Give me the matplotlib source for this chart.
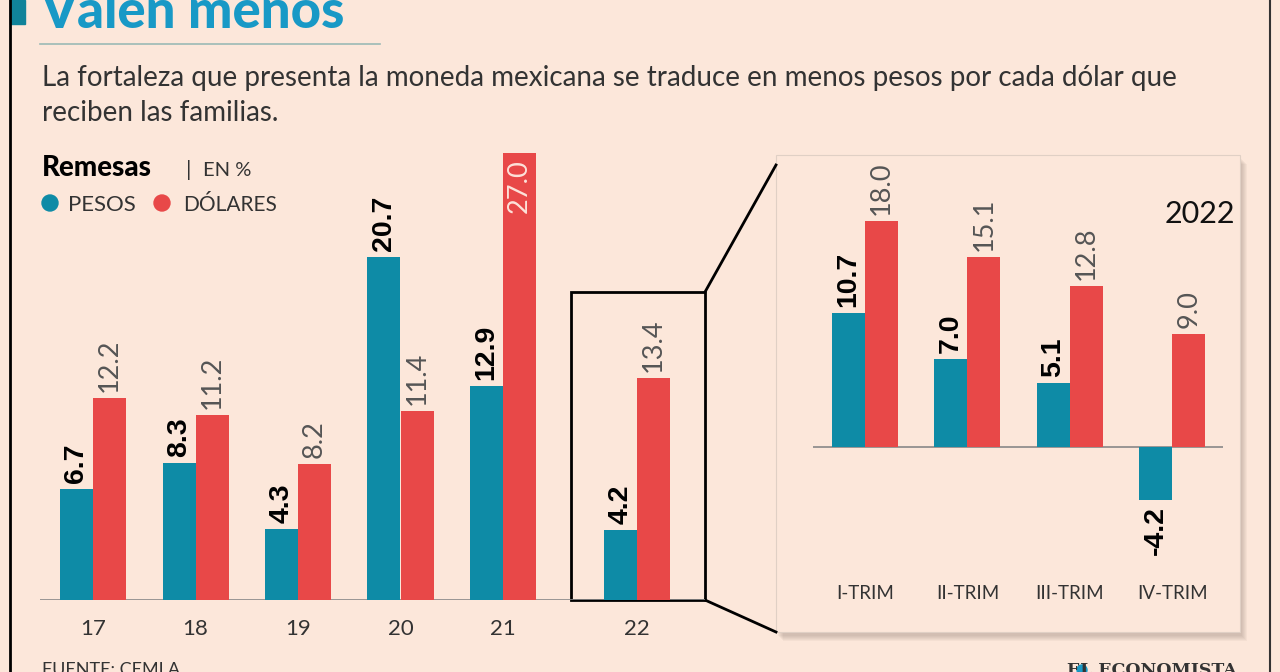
import numpy as np
import matplotlib.pyplot as plt
from matplotlib.patches import Rectangle, Circle

# data
years = ['17', '18', '19', '20', '21', '22']
pesos = [6.7, 8.3, 4.3, 20.7, 12.9, 4.2]
dolares = [12.2, 11.2, 8.2, 11.4, 27.0, 13.4]

trims = ['I-TRIM', 'II-TRIM', 'III-TRIM', 'IV-TRIM']
pesos_22 = [10.7, 7.0, 5.1, -4.2]
dolares_22 = [18.0, 15.1, 12.8, 9.0]

bg = '#fce7da'
teal = '#0e8ba6'
red = '#e84848'
txt = '#333333'
W, H = 1280, 672

FONT = 'Lato'


def px(x0, y0, x1, y1):
    return [x0 / W, 1 - y1 / H, (x1 - x0) / W, (y1 - y0) / H]


fig = plt.figure(figsize=(12.8, 6.72), dpi=100)
fig.patch.set_facecolor(bg)

# decoration layer in pixel coords
deco = fig.add_axes([0, 0, 1, 1], zorder=0)
deco.set_xlim(0, W)
deco.set_ylim(H, 0)
deco.axis('off')
deco.patch.set_alpha(0)

# outer frame
deco.plot([10, 10], [0, H], color='black', lw=2)
deco.plot([1270, 1270], [0, H], color='#333333', lw=1.5)
deco.add_patch(Rectangle((10, 0), 15, 24, color='#10839a'))

# title block
deco.text(40, 28, 'Valen menos', fontsize=38, fontweight='black', color='#1899c6',
          family=FONT, va='baseline')
deco.plot([40, 380], [44, 44], color='#9bbab5', lw=1.2)
deco.text(42, 86, 'La fortaleza que presenta la moneda mexicana se traduce en menos pesos por cada dólar que',
          fontsize=20, color=txt, family=FONT, va='baseline')
deco.text(42, 121, 'reciben las familias.',
          fontsize=20, color=txt, family=FONT, va='baseline')

# legend
deco.text(42, 176, 'Remesas', fontsize=20, fontweight='black', color='black', family=FONT, va='baseline')
deco.text(186, 176, '|', fontsize=16, color=txt, family=FONT, va='baseline')
deco.text(203, 176, 'EN %', fontsize=14.5, color=txt, family=FONT, va='baseline')
deco.add_patch(Circle((50, 203), 8, color=teal))
deco.text(68, 211, 'PESOS', fontsize=16, color=txt, family=FONT, va='baseline')
deco.add_patch(Circle((162, 203), 8, color=red))
deco.text(183, 211, 'DÓLARES', fontsize=15, color=txt, family=FONT, va='baseline')

# inset panel with shadow
for k in range(6):
    deco.add_patch(Rectangle((776 + 2 + k, 155 + 4 + k), 464, 477, color='#7a6a60', alpha=0.06, lw=0))
deco.add_patch(Rectangle((776, 155), 464, 477, facecolor=bg, edgecolor='#e0d0c5', lw=0.8))

# zoom box and connectors
deco.add_patch(Rectangle((571, 292), 134, 308, fill=False, edgecolor='black', lw=2, zorder=5))
deco.plot([705, 776], [292, 165], color='black', lw=2)
deco.plot([705, 776], [600, 632], color='black', lw=2)

# footer
deco.text(42, 662, 'FUENTE: CEMLA', fontsize=13, color=txt, family=FONT, va='top')
deco.add_patch(Circle((1082, 670), 5, color='#1899c6'))
deco.text(1237, 662, 'EL ECONOMISTA', fontsize=12.5, fontweight='bold', color=txt,
          family='DejaVu Serif', va='top', ha='right')


def bars(ax, pos, a, b, w, top):
    ax.bar(pos - w / 2, a, w, color=teal, zorder=2)
    ax.bar(pos + w / 2, b, w, color=red, zorder=2)
    for x, v in zip(pos, a):
        off = 6 if v >= 0 else -6
        ax.annotate(f'{v:.1f}', (x - w / 2, v), xytext=(0, off), textcoords='offset pixels',
                    rotation=90, ha='center', va='bottom' if v >= 0 else 'top',
                    fontsize=20.5, fontweight='bold', color='black', family='Liberation Sans')
    for x, v in zip(pos, b):
        if v > top * 0.9:
            ax.annotate(f'{v:.1f}', (x + w / 2, v), xytext=(0, -6), textcoords='offset pixels',
                        rotation=90, ha='center', va='top',
                        fontsize=19.5, color='#fde2da', family=FONT)
        else:
            ax.annotate(f'{v:.1f}', (x + w / 2, v), xytext=(0, 6), textcoords='offset pixels',
                        rotation=90, ha='center', va='bottom',
                        fontsize=19.5, color='#555555', family=FONT)


# main chart
ax = fig.add_axes(px(40, 140, 705, 600), zorder=1)
ax.patch.set_alpha(0)
pos = np.array([0, 1, 2, 3, 4, 5.31])
w = 33 / 102.5
ymax = 460 / 16.56
ax.set_xlim((40 - 93) / 102.5, (705 - 93) / 102.5)
ax.set_ylim(0, ymax)
bars(ax, pos, pesos, dolares, w, ymax)
ax.axhline(0, color='#888888', lw=1.2, zorder=1)
ax.set_xticks(pos)
ax.set_xticklabels(years, fontsize=16, color='#333333', family=FONT)
ax.tick_params(length=0, pad=14)
ax.set_yticks([])
for s in ax.spines.values():
    s.set_visible(False)

# inset chart 2022
ax2 = fig.add_axes(px(800, 200, 1235, 575), zorder=2)
ax2.patch.set_alpha(0)
pos2 = np.arange(len(trims))
sc = 12.56
ax2.set_xlim((800 - 865) / 102.4, (1235 - 865) / 102.4)
ax2.set_ylim(-(575 - 447) / sc, (447 - 200) / sc)
bars(ax2, pos2, pesos_22, dolares_22, 33 / 102.4, 99)
ax2.hlines(0, (813 - 865) / 102.4, (1223 - 865) / 102.4, color='#888888', lw=1.2, zorder=1)
ax2.set_xticks(pos2)
ax2.set_xticklabels(trims, fontsize=13.5, color='#333333', family=FONT)
ax2.tick_params(length=0, pad=7)
ax2.set_yticks([])
for s in ax2.spines.values():
    s.set_visible(False)
ax2.text(1.0, 1.0, '2022', transform=ax2.transAxes, ha='right', va='top',
         fontsize=22, color='#111111', family=FONT)

fig.savefig('out.png', dpi=100, facecolor=bg)
